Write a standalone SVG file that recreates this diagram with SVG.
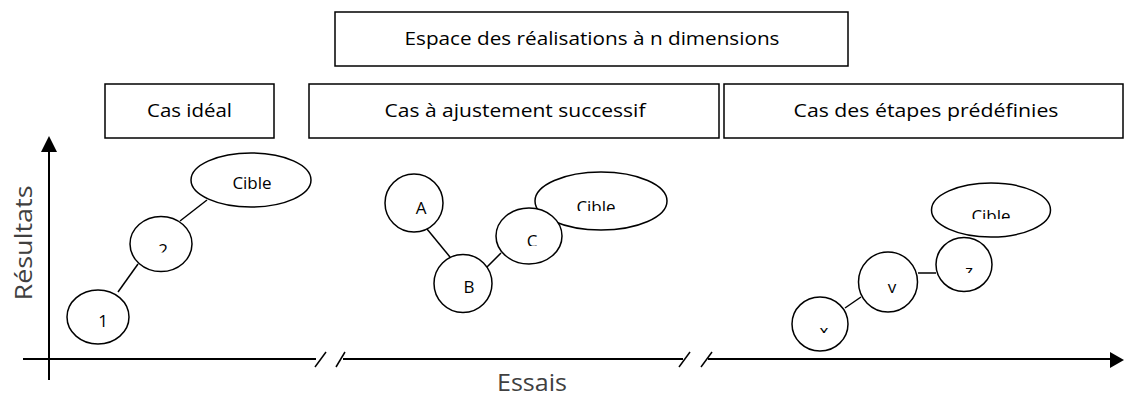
<svg xmlns="http://www.w3.org/2000/svg" width="1126" height="396" viewBox="0 0 1126 396">
<style>
.box{fill:#fff;stroke:#000;stroke-width:1.5}
.nd{fill:#fff;stroke:#000;stroke-width:1.5}
.t{font-family:"Open Sans","Liberation Sans",sans-serif;font-size:19px;fill:#000;text-anchor:middle}
.lb{font-family:"Open Sans","Liberation Sans",sans-serif;font-size:17px;fill:#000;text-anchor:middle}
.ax{font-family:"Open Sans","Liberation Sans",sans-serif;font-size:24px;fill:#404040;text-anchor:middle}
.cn{stroke:#000;stroke-width:1.5;fill:none}
.axis{stroke:#000;stroke-width:2;fill:none}
</style>
<defs>
<clipPath id="c2"><rect x="150" y="230" width="30" height="22.5"/></clipPath>
<clipPath id="cC"><rect x="515" y="225" width="35" height="21"/></clipPath>
<clipPath id="cCb2"><rect x="560" y="190" width="75" height="21"/></clipPath>
<clipPath id="cCb3"><rect x="955" y="198" width="75" height="21"/></clipPath>
<clipPath id="cz"><rect x="955" y="255" width="30" height="18"/></clipPath>
<clipPath id="cy"><rect x="875" y="270" width="30" height="23"/></clipPath>
<clipPath id="cx"><rect x="810" y="315" width="30" height="18"/></clipPath>
</defs>
<rect width="1126" height="396" fill="#fff"/>

<g id="axes">
<line class="axis" x1="49" y1="150" x2="49" y2="380"/>
<polygon points="49,136 41,152 57,152" fill="#000"/>
<polyline class="axis" points="23,359 316,359"/>
<line class="axis" x1="343" y1="359" x2="683" y2="359"/>
<line class="axis" x1="708" y1="359" x2="1112" y2="359"/>
<polygon points="1124,360 1110,352 1110,368" fill="#000"/>
<line class="cn" x1="315" y1="367" x2="326" y2="352"/>
<line class="cn" x1="336" y1="367" x2="345" y2="352"/>
<line class="cn" x1="679" y1="367" x2="690" y2="352"/>
<line class="cn" x1="701" y1="367" x2="712" y2="352"/>
<text class="ax" x="32" y="243" transform="rotate(-90 32 243)" textLength="115" lengthAdjust="spacingAndGlyphs">Résultats</text>
<text class="ax" x="532" y="391" textLength="70" lengthAdjust="spacingAndGlyphs">Essais</text>
</g>

<g id="espace">
<rect class="box" x="335" y="12" width="513" height="54"/>
<text class="t" x="592" y="45" textLength="375" lengthAdjust="spacingAndGlyphs">Espace des réalisations à n dimensions</text>
</g>
<g id="cas-ideal">
<rect class="box" x="105" y="84" width="169" height="54"/>
<text class="t" x="189.5" y="117" textLength="85" lengthAdjust="spacingAndGlyphs">Cas idéal</text>
</g>
<g id="cas-ajustement">
<rect class="box" x="309" y="84" width="410" height="54"/>
<text class="t" x="515" y="117" textLength="261" lengthAdjust="spacingAndGlyphs">Cas à ajustement successif</text>
</g>
<g id="cas-etapes">
<rect class="box" x="724" y="84" width="399" height="54"/>
<text class="t" x="926" y="117" textLength="265" lengthAdjust="spacingAndGlyphs">Cas des étapes prédéfinies</text>
</g>

<g id="connectors">
<line class="cn" x1="118" y1="292" x2="138" y2="264"/>
<line class="cn" x1="180" y1="221" x2="207" y2="200"/>
<line class="cn" x1="427" y1="229" x2="450" y2="257"/>
<line class="cn" x1="487" y1="267" x2="501" y2="253"/>
<line class="cn" x1="845" y1="308" x2="861" y2="297"/>
<line class="cn" x1="918" y1="273" x2="936" y2="273"/>
</g>

<g id="n1"><ellipse class="nd" cx="98" cy="317" rx="31" ry="27"/><text class="lb" x="103" y="327">1</text></g>
<g id="n2"><ellipse class="nd" cx="161" cy="244" rx="31" ry="27.5"/><text class="lb" x="163" y="256" clip-path="url(#c2)">2</text></g>
<g id="cible1"><ellipse class="nd" cx="251" cy="180" rx="60" ry="27"/><text class="lb" x="252" y="189">Cible</text></g>

<g id="cible2"><ellipse class="nd" cx="601" cy="201" rx="66" ry="29"/><text class="lb" x="596" y="213" clip-path="url(#cCb2)">Cible</text></g>
<g id="nA"><ellipse class="nd" cx="414" cy="203" rx="29" ry="29"/><text class="lb" x="421" y="214">A</text></g>
<g id="nB"><ellipse class="nd" cx="463" cy="283.5" rx="29" ry="29"/><text class="lb" x="469" y="293">B</text></g>
<g id="nC"><ellipse class="nd" cx="529" cy="236" rx="33" ry="28"/><text class="lb" x="532" y="247" clip-path="url(#cC)">C</text></g>

<g id="cible3"><ellipse class="nd" cx="991" cy="210" rx="59.5" ry="27"/><text class="lb" x="991" y="222" clip-path="url(#cCb3)">Cible</text></g>
<g id="nz"><ellipse class="nd" cx="964" cy="264.5" rx="28" ry="27"/><text class="lb" x="969" y="277" clip-path="url(#cz)">z</text></g>
<g id="ny"><ellipse class="nd" cx="888" cy="282" rx="29.5" ry="30"/><text class="lb" x="892" y="293" clip-path="url(#cy)">y</text></g>
<g id="nx"><ellipse class="nd" cx="820" cy="324" rx="28" ry="27"/><text class="lb" x="824" y="337" clip-path="url(#cx)">x</text></g>
</svg>
